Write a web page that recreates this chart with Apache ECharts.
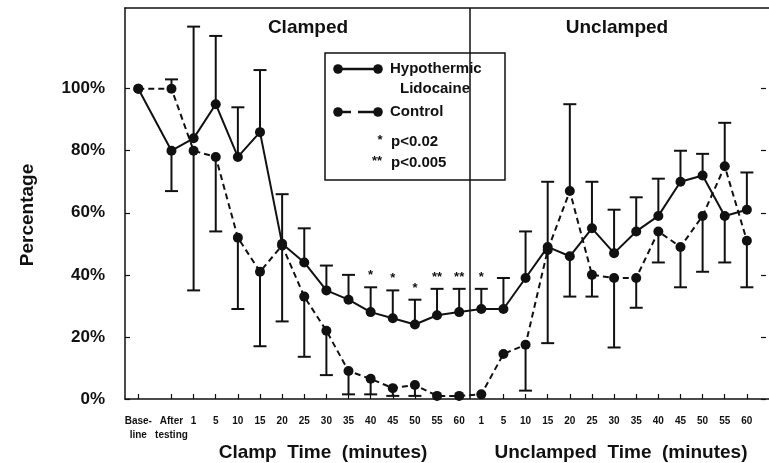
<!DOCTYPE html>
<html>
<head>
<meta charset="utf-8">
<script src="https://cdn.jsdelivr.net/npm/echarts@6/dist/echarts.min.js"></script>
<style>
  html, body { margin: 0; padding: 0; background: #fff; }
  #chart { width: 769px; height: 463px; }
</style>
</head>
<body>
<div id="chart"></div>
<script>
// Time points: baseline, after testing, 13 clamp readings, 13 unclamped readings
const categories = ['Base-\nline', 'After\ntesting',
  '1', '5', '10', '15', '20', '25', '30', '35', '40', '45', '50', '55', '60',
  '1', '5', '10', '15', '20', '25', '30', '35', '40', '45', '50', '55', '60'];

// Hypothermic lidocaine group (%)
const lidocaine = [100, 80, 84, 95, 78, 86, 50, 44, 35, 32, 28, 26, 24, 27, 28,
  29, 29, 39, 49, 46, 55, 47, 54, 59, 70, 72, 59, 61];
// Where each lidocaine error bar ends (null = no bar)
const lidocaineBarEnd = [null, 67, 120, 117, 94, 106, 66, 55, 43, 40, 36, 35, 32, 35.5, 35.5,
  35.5, 39, 54, 70, 33, 70, 61, 65, 71, 80, 79, 44, 73];

// Control group (%)
const control = [100, 100, 80, 78, 52, 41, 49.5, 33, 22, 9, 6.5, 3.5, 4.5, 1, 1,
  1.5, 14.5, 17.5, 48, 67, 40, 39, 39, 54, 49, 59, 75, 51];
// Where each control error bar ends (null = no bar)
const controlBarEnd = [null, 103, 35, 54, 29, 17, 25, 13.6, 7.7, 1.5, 1.5, 1, 1, null, null,
  null, null, 2.7, 18, 95, 33, 16.6, 29.4, 44, 36, 41, 89, 36];

// Significance marks between groups
const significance = ['', '', '', '', '', '', '', '', '', '', '*', '*', '*', '**', '**',
  '*', '', '', '', '', '', '', '', '', '', '', '', ''];

const yTicks = [0, 20, 40, 60, 80, 100];

const FONT = '"Liberation Sans", Arial, Helvetica, sans-serif';
const INK = '#111';

// Slot of each time point on the x axis; the baseline sits half a slot further out.
const slot = i => (i === 0 ? -1.5 : i - 1);
const xTicks = categories.map((_, i) => slot(i));

const points = values => values.map((v, i) => [slot(i), v]);
const bars = (values, ends) => values
  .map((v, i) => (ends[i] == null ? null : [slot(i), v, ends[i]]))
  .filter(Boolean);

const starItems = significance
  .map((s, i) => (s ? { x: slot(i), y: lidocaineBarEnd[i], mark: s } : null))
  .filter(Boolean);

function renderBar(params, api) {
  const from = api.coord([api.value(0), api.value(1)]);
  const to = api.coord([api.value(0), api.value(2)]);
  const style = { stroke: INK, lineWidth: 2 };
  return {
    type: 'group',
    children: [
      { type: 'line', shape: { x1: from[0], y1: from[1], x2: to[0], y2: to[1] }, style },
      { type: 'line', shape: { x1: to[0] - 6.5, y1: to[1], x2: to[0] + 6.5, y2: to[1] }, style }
    ]
  };
}

function renderStar(params, api) {
  const item = starItems[params.dataIndex];
  const p = api.coord([item.x, item.y]);
  return {
    type: 'text',
    style: {
      x: p[0], y: p[1] - 5, text: item.mark, align: 'center', verticalAlign: 'bottom',
      fill: INK, font: 'bold 13px ' + FONT
    }
  };
}

const chart = echarts.init(document.getElementById('chart'), null, { renderer: 'canvas' });

const textStyle = (size) => ({ fill: INK, font: 'bold ' + size + 'px ' + FONT });

chart.setOption({
  animation: false,
  backgroundColor: '#fff',
  grid: { left: 125, right: -3, top: 8, bottom: 64, show: false },
  xAxis: [{
    type: 'value', min: -2.1, max: 27,
    splitLine: { show: false },
    axisLine: { onZero: false, lineStyle: { color: INK, width: 1.5 } },
    axisTick: { inside: true, length: 5, customValues: xTicks, lineStyle: { color: INK, width: 1.2 } },
    axisLabel: {
      customValues: xTicks,
      formatter: v => {
        const i = xTicks.findIndex(t => Math.abs(t - v) < 1e-6);
        return i < 0 ? '' : categories[i];
      },
      fontFamily: FONT, fontWeight: 'bold', fontSize: 10, lineHeight: 14,
      color: INK, margin: 15
    }
  }, {
    // top frame line
    type: 'value', min: -2.1, max: 27, position: 'top',
    splitLine: { show: false },
    axisLine: { show: true, onZero: false, lineStyle: { color: INK, width: 1.5 } },
    axisTick: { show: false },
    axisLabel: { show: false }
  }],
  yAxis: [{
    type: 'value', min: 0, max: 126,
    splitLine: { show: false },
    axisLine: { show: true, onZero: false, lineStyle: { color: INK, width: 1.5 } },
    axisTick: { show: true, inside: true, length: 5, customValues: yTicks, lineStyle: { color: INK, width: 1.2 } },
    axisLabel: {
      customValues: yTicks, formatter: v => v + '%',
      fontFamily: FONT, fontWeight: 'bold', fontSize: 17, color: INK, margin: 20
    }
  }, {
    type: 'value', min: 0, max: 126, position: 'right', offset: -3,
    splitLine: { show: false },
    axisLine: { show: false, onZero: false },
    axisTick: { show: true, inside: true, length: 5, customValues: yTicks, lineStyle: { color: INK, width: 1.2 } },
    axisLabel: { show: false }
  }],
  series: [
    {
      name: 'Hypothermic Lidocaine error', type: 'custom', renderItem: renderBar,
      data: bars(lidocaine, lidocaineBarEnd), z: 2, silent: true
    },
    {
      name: 'Control error', type: 'custom', renderItem: renderBar,
      data: bars(control, controlBarEnd), z: 2, silent: true
    },
    {
      name: 'Hypothermic Lidocaine', type: 'line', data: points(lidocaine),
      symbol: 'circle', symbolSize: 10, z: 3,
      itemStyle: { color: INK },
      lineStyle: { color: INK, width: 2 },
      markLine: {
        silent: true, symbol: 'none', label: { show: false },
        lineStyle: { color: INK, width: 1.5, type: 'solid' },
        data: [{ xAxis: 13.5 }]
      }
    },
    {
      name: 'Control', type: 'line', data: points(control),
      symbol: 'circle', symbolSize: 10, z: 3,
      itemStyle: { color: INK },
      lineStyle: { color: INK, width: 2, type: [6, 4] }
    },
    {
      name: 'Significance', type: 'custom', renderItem: renderStar,
      data: starItems.map(s => [s.x, s.y]), z: 4, silent: true
    }
  ],
  graphic: [
    { type: 'text', x: 308, y: 28, style: Object.assign({ text: 'Clamped', align: 'center', verticalAlign: 'middle' }, textStyle(19)) },
    { type: 'text', x: 617, y: 28, style: Object.assign({ text: 'Unclamped', align: 'center', verticalAlign: 'middle' }, textStyle(19)) },
    { type: 'text', x: 323, y: 453, style: Object.assign({ text: 'Clamp  Time  (minutes)', align: 'center', verticalAlign: 'middle' }, textStyle(19)) },
    { type: 'text', x: 621, y: 453, style: Object.assign({ text: 'Unclamped  Time  (minutes)', align: 'center', verticalAlign: 'middle' }, textStyle(19)) },
    { type: 'text', x: 28, y: 215, rotation: Math.PI / 2, style: Object.assign({ text: 'Percentage', align: 'center', verticalAlign: 'middle' }, textStyle(19)) },
    {
      // Legend box
      type: 'group', z: 10,
      children: [
        { type: 'rect', shape: { x: 325, y: 53, width: 180, height: 127 }, style: { fill: '#fff', stroke: INK, lineWidth: 1.5 } },
        { type: 'line', shape: { x1: 338, y1: 69, x2: 378, y2: 69 }, style: { stroke: INK, lineWidth: 2.5 } },
        { type: 'circle', shape: { cx: 338, cy: 69, r: 4.8 }, style: { fill: INK } },
        { type: 'circle', shape: { cx: 378, cy: 69, r: 4.8 }, style: { fill: INK } },
        { type: 'text', x: 390, y: 69, style: Object.assign({ text: 'Hypothermic', verticalAlign: 'middle' }, textStyle(15)) },
        { type: 'text', x: 400, y: 89, style: Object.assign({ text: 'Lidocaine', verticalAlign: 'middle' }, textStyle(15)) },
        { type: 'line', shape: { x1: 338, y1: 112, x2: 351, y2: 112 }, style: { stroke: INK, lineWidth: 2.5 } },
        { type: 'line', shape: { x1: 358, y1: 112, x2: 378, y2: 112 }, style: { stroke: INK, lineWidth: 2.5 } },
        { type: 'circle', shape: { cx: 338, cy: 112, r: 4.8 }, style: { fill: INK } },
        { type: 'circle', shape: { cx: 378, cy: 112, r: 4.8 }, style: { fill: INK } },
        { type: 'text', x: 390, y: 112, style: Object.assign({ text: 'Control', verticalAlign: 'middle' }, textStyle(15)) },
        { type: 'text', x: 380, y: 140, style: Object.assign({ text: '*', align: 'center', verticalAlign: 'middle' }, textStyle(13)) },
        { type: 'text', x: 391, y: 142, style: Object.assign({ text: 'p<0.02', verticalAlign: 'middle' }, textStyle(15)) },
        { type: 'text', x: 377, y: 161, style: Object.assign({ text: '**', align: 'center', verticalAlign: 'middle' }, textStyle(13)) },
        { type: 'text', x: 391, y: 163, style: Object.assign({ text: 'p<0.005', verticalAlign: 'middle' }, textStyle(15)) }
      ]
    }
  ]
});
</script>
</body>
</html>
